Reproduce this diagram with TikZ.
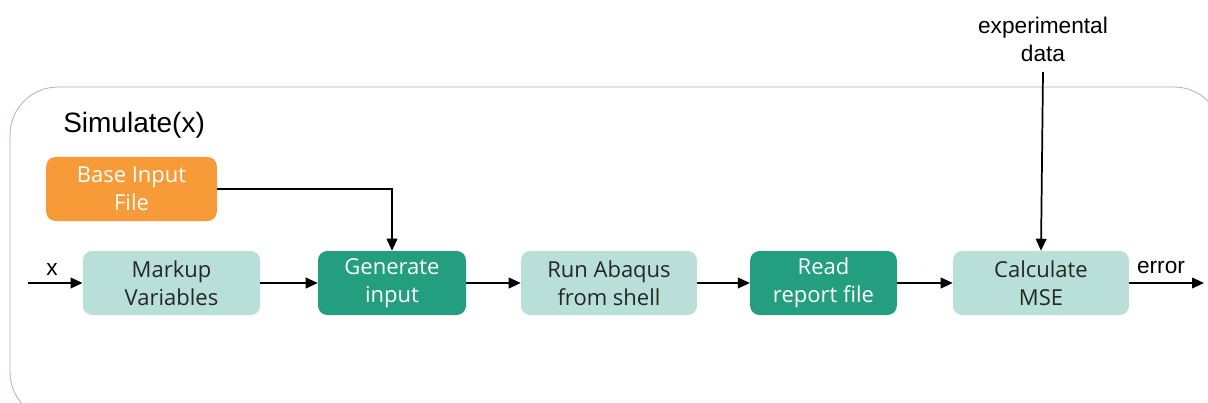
\documentclass[tikz,border=0pt]{standalone}
\usepackage{fontspec}
\setmainfont{Liberation Sans}
\newfontfamily\boxfont{Open Sans}
\usetikzlibrary{arrows.meta}
\definecolor{frameblue}{HTML}{9DB3D6}
\definecolor{baseorange}{HTML}{F79A38}
\definecolor{lightteal}{HTML}{B8E0D8}
\definecolor{darkteal}{HTML}{239E7E}
\definecolor{inktext}{HTML}{262626}
\tikzset{
  procbox/.style={rounded corners=7pt, minimum height=48pt, align=center,
    font=\boxfont\fontsize{16.5}{21}\selectfont, inner sep=0pt},
  lightbox/.style={procbox, fill=lightteal, text=inktext},
  darkbox/.style={procbox, fill=darkteal, text=white},
  basebox/.style={procbox, fill=baseorange, text=white},
  flow/.style={draw=black, line width=1.3pt, -{Triangle[length=9pt,width=8pt]}},
  lbl/.style={font=\fontsize{17}{21}\selectfont, text=black, inner sep=0pt}
}
\begin{document}
\begin{tikzpicture}[x=0.75pt,y=-0.75pt]
\useasboundingbox (0,0) rectangle (1208,403);
% enclosing frame of the Simulate(x) routine
\draw[frameblue, line width=0.6pt, rounded corners=36pt] (10,87) rectangle (1222,420);
\node[font=\fontsize{21}{25}\selectfont, anchor=west, inner sep=0pt] (title) at (63,125) {Simulate(x)};

% process boxes
\node[basebox, minimum width=128pt] (base) at (131.5,189) {Base Input\\File};
\node[lightbox, minimum width=133pt] (markup) at (171.5,283) {Markup\\Variables};
\node[darkbox, minimum width=111pt] (gen) at (392,283) {Generate\\input};
\node[lightbox, minimum width=132pt] (run) at (609,283) {Run Abaqus\\from shell};
\node[darkbox, minimum width=110pt] (read) at (823.5,283) {Read\\report file};
\node[lightbox, minimum width=132pt] (mse) at (1041,283) {Calculate\\MSE};

% free ends
\coordinate (xin) at (28,283);
\coordinate (errout) at (1204,283);
\node[lbl, align=center] (exp) at (1043,39) {experimental\\data};

% connectors
\draw[flow] (xin) -- (markup);
\node[lbl] (xlbl) at (52,270) {x};
\draw[flow] (markup) -- (gen);
\draw[flow] (gen) -- (run);
\draw[flow] (run) -- (read);
\draw[flow] (read) -- (mse);
\draw[flow] (mse) -- (errout);
\node[lbl] (errlbl) at (1161,268) {error};
\draw[flow] (base.east) -| (gen.north);
\draw[flow] (exp.south |- 0,72) -- (mse.north);
\end{tikzpicture}
\end{document}
